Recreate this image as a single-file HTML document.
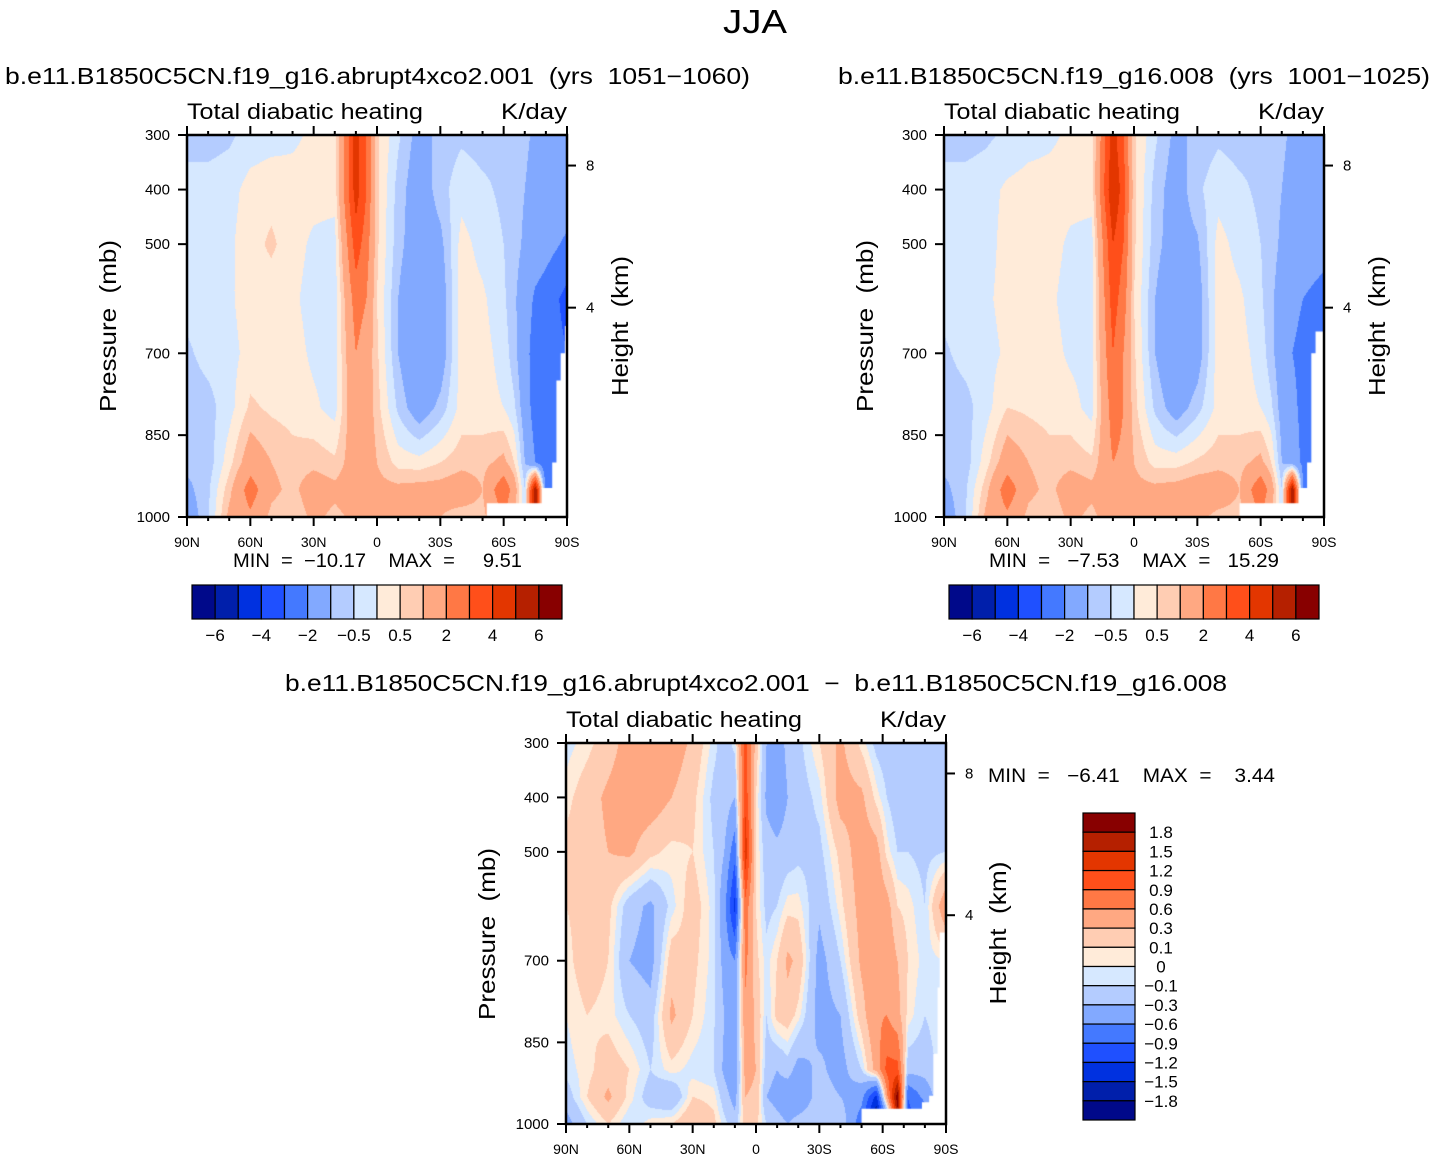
<!DOCTYPE html>
<html><head><meta charset="utf-8">
<style>
html,body{margin:0;padding:0;background:#fff;}
#root{position:relative;width:1434px;height:1161px;overflow:hidden;background:#fff;}
canvas{position:absolute;}
svg{position:absolute;left:0;top:0;}
text{white-space:pre;}
</style></head>
<body>
<div id="root">
<canvas id="c1"></canvas>
<canvas id="c2"></canvas>
<canvas id="c3"></canvas>
<svg id="s" width="1434" height="1161" font-family="'Liberation Sans', sans-serif"></svg>
</div>
<script>
// ---------- data ----------
const COLORS = ["#00098a","#001fab","#0031e0","#1f50ff","#4479ff","#82a9ff","#b4ccff","#d6e8ff","#ffebd9","#ffcdb3","#ffa882","#ff7845","#ff4f1a","#e33600","#b52000","#880000"];
const LEV1 = [-6,-5,-4,-3,-2,-1,-0.5,0,0.5,1,2,3,4,5,6];
const LEV1_LABELS = ["−6","−4","−2","−0.5","0.5","2","4","6"];
const LEV3 = [-1.8,-1.5,-1.2,-0.9,-0.6,-0.3,-0.1,0,0.1,0.3,0.6,0.9,1.2,1.5,1.8];
const LEV3_LABELS = ["−1.8","−1.5","−1.2","−0.9","−0.6","−0.3","−0.1","0","0.1","0.3","0.6","0.9","1.2","1.5","1.8"];
const PRESS = [300,400,500,600,700,800,900,950,1000];
const P_TICKS = [300,400,500,700,850,1000];
const H_TICKS = [8,4];
const LAT_LABELS = [[90,"90N"],[60,"60N"],[30,"30N"],[0,"0"],[-30,"30S"],[-60,"60S"],[-90,"90S"]];

const LATS1 = [90,80,70,60,50,40,30,20,10,5,0,-10,-20,-30,-40,-50,-60,-65,-70,-75,-80,-90];
const VALS1 = [
 [-0.7,-0.3,-0.3,-0.3,-0.6,-0.8,-0.8,-1.2,-1.5],
 [-0.7,-0.3,-0.2,-0.2,-0.3,-0.7,-0.8,-0.6,-0.6],
 [-0.6,-0.2,-0.1,-0.1,-0.2,-0.2,0.3,0.8,1.2],
 [-0.3,0.2,0.3,0.3,0.2,0.6,1.5,2.5,1.8],
 [-0.2,0.3,0.6,0.2,0.1,0.4,1.0,1.2,0.8],
 [-0.1,0.2,0.2,0.1,0.2,0.3,0.7,0.8,0.5],
 [0.1,0.2,-0.1,-0.2,-0.1,0.1,0.8,1.5,1.2],
 [0.2,0.2,-0.2,-0.3,-0.2,-0.2,0.6,1.2,0.8],
 [4.5,4.5,3.5,2.5,2,1.8,1.5,1.5,1.2],
 [3,3,2.5,2,1.5,1.5,1.5,1.2,1],
 [0.6,0.6,0.6,0.5,0.6,0.7,1,1.2,1.5],
 [-0.4,-0.7,-0.8,-1,-1,-0.6,0.3,1.2,1.5],
 [-1.3,-1.5,-1.5,-1.8,-2,-1.5,0.2,1.3,1.5],
 [-0.8,-0.7,-1.2,-1.5,-1.5,-0.8,0.5,1.3,1],
 [-0.6,-0.2,0.2,0.3,0.3,0.2,0.8,1.5,0.7],
 [-0.7,-0.4,-0.2,0.1,0.2,0.2,0.8,1,0.8],
 [-0.6,-0.6,-0.5,-0.4,-0.2,0,1.2,2.8,2],
 [-0.8,-0.8,-0.8,-0.9,-0.8,-0.4,0.5,1.5,1],
 [-0.9,-1.0,-1.1,-1.4,-1.6,-1.4,-1,-0.5,-0.5],
 [-1.1,-1.2,-1.3,-2.2,-2.5,-2.5,-2,6,6],
 [-1.2,-1.3,-1.6,-2.5,-2.5,-2.5,-2.8,-2.5,-2.5],
 [-1.2,-1.3,-2.2,-3.3,-3,-3,-3,-3,-3]
];
const LATS2 = LATS1;
const VALS2 = [
 [-0.7,-0.3,-0.3,-0.3,-0.6,-0.8,-0.8,-1.2,-1.5],
 [-0.7,-0.3,-0.2,-0.2,-0.3,-0.7,-0.8,-0.6,-0.6],
 [-0.6,-0.2,-0.2,-0.1,-0.2,-0.2,0.3,0.8,1.2],
 [-0.4,0.1,0.2,0.2,0.1,0.5,1.5,2.6,1.8],
 [-0.2,0.2,0.4,0.2,0.1,0.4,1.0,1.2,0.8],
 [-0.1,0.2,0.2,0.1,0.2,0.3,0.7,0.8,0.5],
 [0.1,0.2,-0.1,-0.2,-0.1,0.2,0.8,1.5,1.2],
 [0.2,0.2,-0.2,-0.3,-0.2,-0.2,0.6,1.2,0.8],
 [4.5,5,4,3.5,3,2.5,2,1.8,1.5],
 [3,3.5,3,2.5,2,2,1.8,1.5,1.2],
 [0.6,0.6,0.6,0.5,0.6,0.7,1,1.2,1.5],
 [-0.4,-0.7,-0.8,-1,-1,-0.6,0.3,1.2,1.5],
 [-1.2,-1.4,-1.4,-1.7,-1.9,-1.4,0.3,1.3,1.5],
 [-0.8,-0.6,-1.1,-1.4,-1.4,-0.7,0.6,1.5,1.2],
 [-0.6,-0.2,0.2,0.3,0.3,0.2,0.8,1.5,0.8],
 [-0.7,-0.4,-0.2,0.1,0.2,0.2,0.8,1,0.8],
 [-0.6,-0.6,-0.5,-0.4,-0.2,0,1.2,2.8,2],
 [-0.8,-0.8,-0.8,-0.9,-0.8,-0.4,0.5,1.5,1],
 [-0.9,-1.0,-1.1,-1.3,-1.5,-1.3,-1,-0.5,-0.5],
 [-1.1,-1.2,-1.3,-1.8,-2,-1.8,-1.5,6,6],
 [-1.2,-1.3,-1.5,-2,-2.2,-2.2,-2.2,-2,-2],
 [-1.2,-1.3,-1.7,-2.3,-2.5,-2.5,-2.5,-2.5,-2.5]
];
const LATS3 = [90,80,70,60,50,40,30,20,15,10,5,0,-5,-10,-15,-20,-30,-40,-50,-57,-62,-67,-72,-80,-90];
const VALS3 = [
 [-0.05,0.05,0.15,0.1,0.05,0,-0.05,-0.2,-0.4],
 [0.05,0.2,0.2,0.15,0.2,0.1,0.05,0.1,-0.1],
 [0.2,0.35,0.3,0.15,0.1,0.05,0.2,0.35,0.1],
 [0.4,0.45,0.35,-0.2,-0.3,-0.1,0.1,0.05,-0.1],
 [0.5,0.45,0.15,-0.35,-0.4,-0.2,-0.1,-0.2,0.05],
 [0.45,0.3,0.05,-0.05,0.2,0.35,0.05,-0.3,0.1],
 [0.25,0.15,0.1,0.2,0.15,0.1,-0.05,0.1,0.3],
 [-0.05,-0.15,-0.1,-0.05,-0.05,-0.08,-0.1,0.05,0.15],
 [-0.2,-0.15,-0.3,-0.5,-0.4,-0.3,-0.35,-0.2,-0.05],
 [-0.05,-0.3,-0.8,-1.3,-0.6,-0.5,-0.5,-0.4,-0.2],
 [1.0,1.1,1.4,0.8,0.7,0.5,0.4,0.3,0.2],
 [0.2,0.1,0.1,0.1,0.15,0.25,0.3,0.25,0.15],
 [-0.3,-0.35,-0.2,-0.15,-0.05,-0.1,-0.2,-0.3,-0.1],
 [-0.4,-0.45,-0.25,-0.1,0.1,0.15,-0.3,-0.4,-0.2],
 [-0.25,-0.3,-0.2,0.05,0.35,0.2,-0.2,-0.5,-0.3],
 [-0.15,-0.2,-0.15,0.05,0.25,0.05,-0.4,-0.5,-0.2],
 [0.1,-0.05,-0.15,-0.25,-0.4,-0.4,-0.25,-0.2,-0.15],
 [0.35,0.4,0.15,0.05,-0.1,-0.3,-0.4,-0.3,-0.1],
 [0.05,0.35,0.45,0.4,0.35,0.2,-0.1,-0.5,-0.8],
 [-0.15,0.05,0.4,0.5,0.5,0.55,0.4,-1.3,-2.0],
 [-0.2,-0.1,0.05,0.4,0.5,0.6,1.0,0.5,-1],
 [-0.25,-0.2,-0.1,0.1,0.3,0.4,1.0,2.0,1.5],
 [-0.25,-0.2,-0.1,0.05,0.1,0.05,-0.2,-0.9,-1.0],
 [-0.25,-0.2,-0.15,-0.1,-0.05,-0.1,-0.2,-0.5,-1.0],
 [-0.25,-0.25,-0.1,0.5,0,0,0,0,0]
];
const GROUND1 = [[-52,1000],[-52,975],[-78,975],[-78,947],[-83,947],[-83,900],[-85,900],[-85,750],[-87,750],[-87,700],[-89,700],[-89,650],[-90,650],[-90,1000]];
const GROUND2 = [[-50,1000],[-50,975],[-78,975],[-78,947],[-82,947],[-82,900],[-84,900],[-84,700],[-86,700],[-86,660],[-90,660],[-90,1000]];
const GROUND3 = [[-50,1000],[-50,972],[-78.6,972],[-78.6,960],[-82,960],[-82,948],[-84,948],[-84,871],[-86,871],[-86,749],[-87,749],[-87,648],[-90,648],[-90,1000]];

// ---------- helpers ----------
const NS = "http://www.w3.org/2000/svg";
const svg = document.getElementById('s');
function mk(tag, attrs, parent){const e=document.createElementNS(NS,tag);for(const k in attrs)e.setAttribute(k,attrs[k]);(parent||svg).appendChild(e);return e;}
function txt(str,x,y,size,anchor,name,extra){
  const t=mk('text',Object.assign({x:x,y:y,'font-size':size,'text-anchor':anchor||'start',fill:'#000'},extra||{}));
  t.textContent=str;
  
  
  return t;
}
function hex(c){return [parseInt(c.slice(1,3),16),parseInt(c.slice(3,5),16),parseInt(c.slice(5,7),16)];}
const RGB = COLORS.map(hex);

function makeAxes(x0,y0,w,h){
  return {
    x: lat => x0 + (90-lat)/180*w,
    y: p => y0 + (p-300)/700*h
  };
}
function classify(v,lev){let i=0;while(i<lev.length && v>=lev[i])i++;return i;}
function interp(lats,vals,lat,p){
  let i=0;while(i<lats.length-2 && lat<lats[i+1])i++;
  let j=0;while(j<PRESS.length-2 && p>PRESS[j+1])j++;
  const tx=(lats[i]-lat)/(lats[i]-lats[i+1]);
  const ty=(p-PRESS[j])/(PRESS[j+1]-PRESS[j]);
  const a=vals[i][j],b=vals[i+1][j],c=vals[i][j+1],d=vals[i+1][j+1];
  return a*(1-tx)*(1-ty)+b*tx*(1-ty)+c*(1-tx)*ty+d*tx*ty;
}
function drawField(id,x0,y0,w,h,lats,vals,lev,ground){
  const cv=document.getElementById(id);
  cv.width=w;cv.height=h;cv.style.left=x0+'px';cv.style.top=y0+'px';
  const ctx=cv.getContext('2d');
  const img=ctx.createImageData(w,h);
  for(let py=0;py<h;py++){
    const p=300+(py+0.5)/h*700;
    for(let px=0;px<w;px++){
      const lat=90-(px+0.5)/w*180;
      const v=interp(lats,vals,lat,p);
      const col=RGB[classify(v,lev)];
      const k=(py*w+px)*4;
      img.data[k]=col[0];img.data[k+1]=col[1];img.data[k+2]=col[2];img.data[k+3]=255;
    }
  }
  ctx.putImageData(img,0,0);
  const ax=makeAxes(0,0,w,h);
  ctx.fillStyle='#fff';ctx.beginPath();
  ground.forEach((g,i)=>{const X=ax.x(g[0]),Y=ax.y(g[1]);if(i===0)ctx.moveTo(X,Y);else ctx.lineTo(X,Y);});
  ctx.closePath();ctx.fill();
}
function hToP(z){return 1013.25*Math.pow(1-2.2558e-5*z*1000,5.256);}

const SG = {lengthAdjust:'spacingAndGlyphs'};
function drawFrame(x0,y0,w,h,tag){
  const ax=makeAxes(x0,y0,w,h);
  const g=mk('g',{});
  
  
  for(let lat=90;lat>=-90;lat-=10){
    const X=ax.x(lat);const major=(lat%30===0);const L=major?9:4;
    mk('line',{x1:X,y1:y0,x2:X,y2:y0-L,stroke:'#000','stroke-width':2},g);
    mk('line',{x1:X,y1:y0+h,x2:X,y2:y0+h+L,stroke:'#000','stroke-width':2},g);
  }
  LAT_LABELS.forEach(l=>{txt(l[1],ax.x(l[0]),y0+h+30,14,'middle',tag+'-x-tick-label');});
  P_TICKS.forEach(p=>{
    const Y=ax.y(p);
    mk('line',{x1:x0,y1:Y,x2:x0-9,y2:Y,stroke:'#000','stroke-width':2},g);
    txt(String(p),x0-17,Y+5,15,'end',tag+'-y-tick-label');
  });
  H_TICKS.forEach(z=>{
    const Y=ax.y(hToP(z));
    mk('line',{x1:x0+w,y1:Y,x2:x0+w+9,y2:Y,stroke:'#000','stroke-width':2},g);
    txt(String(z),x0+w+19,Y+5,15,'start',tag+'-height-tick-label');
  });
  const r=mk('rect',{x:x0,y:y0,width:w,height:h,fill:'none',stroke:'#000','stroke-width':2.5},g);
  
  
  txt('Total diabatic heating',x0,y0-16,22,'start',tag+'-subtitle',Object.assign({textLength:236},SG));
  txt('K/day',x0+w,y0-16,22,'end',tag+'-units',Object.assign({textLength:66},SG));
}
function hColorbar(x0,y0,w,h,tag){
  const bw=w/16;
  COLORS.forEach((c,i)=>{
    const r=mk('rect',{x:x0+i*bw,y:y0,width:bw,height:h,fill:c,stroke:'#000','stroke-width':1.2});
    
    
  });
  LEV1_LABELS.forEach((lab,k)=>{
    txt(lab,x0+(2*k+1)*bw,y0+h+22,17,'middle',tag+'-colorbar-label');
  });
}
function vColorbar(x0,y0,w,h){
  const bh=h/16;
  COLORS.slice().reverse().forEach((c,i)=>{
    const r=mk('rect',{x:x0,y:y0+i*bh,width:w,height:bh,fill:c,stroke:'#000','stroke-width':1.2});
    
    
  });
  LEV3_LABELS.slice().reverse().forEach((lab,i)=>{
    txt(lab,x0+78,y0+(i+1)*bh+6,17,'middle','diff-colorbar-label');
  });
}

// ---------- fields ----------
drawField('c1',187,135,380,382,LATS1,VALS1,LEV1,GROUND1);
drawField('c2',944,135,380,382,LATS2,VALS2,LEV1,GROUND2);
drawField('c3',566,743,380,381,LATS3,VALS3,LEV3,GROUND3);

// ---------- text & axes ----------
txt('JJA',755,33,33,'middle','main-title',Object.assign({textLength:64},SG));
txt('b.e11.B1850C5CN.f19_g16.abrupt4xco2.001  (yrs  1051−1060)',5,84,23,'start','panel1-title',Object.assign({textLength:745},SG));
txt('b.e11.B1850C5CN.f19_g16.008  (yrs  1001−1025)',838,84,23,'start','panel2-title',Object.assign({textLength:592},SG));
txt('b.e11.B1850C5CN.f19_g16.abrupt4xco2.001  −  b.e11.B1850C5CN.f19_g16.008',285,691,23,'start','panel3-title',Object.assign({textLength:942},SG));

drawFrame(187,135,380,382,'panel1');
drawFrame(944,135,380,382,'panel2');
drawFrame(566,743,380,381,'panel3');

txt('Pressure  (mb)',116,326,23,'middle','panel1-y-axis-title',Object.assign({transform:'rotate(-90 116 326)',textLength:172},SG));
txt('Height  (km)',628,326,23,'middle','panel1-right-axis-title',Object.assign({transform:'rotate(-90 628 326)',textLength:140},SG));
txt('Pressure  (mb)',873,326,23,'middle','panel2-y-axis-title',Object.assign({transform:'rotate(-90 873 326)',textLength:172},SG));
txt('Height  (km)',1385,326,23,'middle','panel2-right-axis-title',Object.assign({transform:'rotate(-90 1385 326)',textLength:140},SG));
txt('Pressure  (mb)',495,934,23,'middle','panel3-y-axis-title',Object.assign({transform:'rotate(-90 495 934)',textLength:172},SG));
txt('Height  (km)',1006,933,23,'middle','panel3-right-axis-title',Object.assign({transform:'rotate(-90 1006 933)',textLength:143},SG));

txt('MIN  =  −10.17    MAX  =     9.51',233,567,19,'start','panel1-min-max',Object.assign({textLength:289},SG));
txt('MIN  =   −7.53    MAX  =   15.29',989,567,19,'start','panel2-min-max',Object.assign({textLength:290},SG));
txt('MIN  =   −6.41    MAX  =    3.44',988,782,19,'start','panel3-min-max',Object.assign({textLength:287},SG));

hColorbar(192,585,370,34,'panel1');
hColorbar(949,585,370,34,'panel2');
vColorbar(1083,813,52,307);
</script>
</body></html>
